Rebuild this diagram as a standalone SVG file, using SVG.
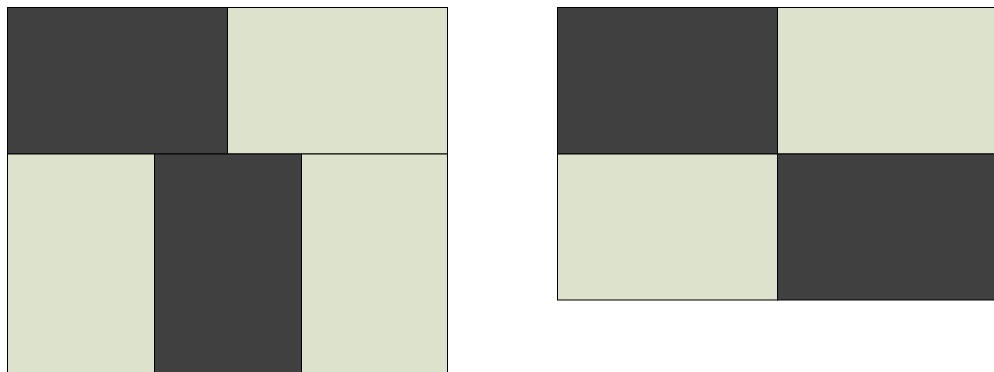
<svg xmlns="http://www.w3.org/2000/svg" width="994" height="372" viewBox="0 0 994 372">
<style>
.d{fill:#404040;stroke:#000;stroke-width:1}
.l{fill:#dde2cd;stroke:#000;stroke-width:1}
</style>
<rect width="994" height="372" fill="#fff"/>
<g id="left">
<rect class="d" x="7.5" y="7.5" width="220" height="146.5"/>
<rect class="l" x="227.5" y="7.5" width="220" height="146.5"/>
<rect class="l" x="7.5" y="154" width="147" height="230"/>
<rect class="d" x="154.5" y="154" width="147" height="230"/>
<rect class="l" x="301.5" y="154" width="146" height="230"/>
</g>
<g id="right">
<rect class="d" x="557.5" y="7.5" width="220" height="146.5"/>
<rect class="l" x="777.5" y="7.5" width="220" height="146.5"/>
<rect class="l" x="557.5" y="154" width="220" height="146"/>
<rect class="d" x="777.5" y="154" width="220" height="146"/>
</g>
<g id="connectors"/>
</svg>
